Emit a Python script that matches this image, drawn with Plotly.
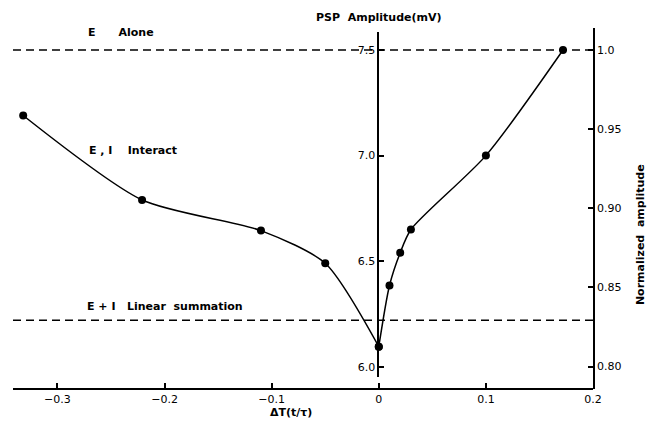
import plotly.graph_objects as go

# ---- data ----
delta_t = [-0.332, -0.221, -0.110, -0.050, 0.000, 0.010, 0.020, 0.030, 0.100, 0.172]
psp_mv = [7.19, 6.79, 6.645, 6.49, 6.095, 6.385, 6.54, 6.65, 7.00, 7.50]

E_ALONE_MV = 7.5          # "E Alone" reference level
LINEAR_SUM_MV = 6.22      # "E+I Linear summation" reference level

x_ticks = [-0.3, -0.2, -0.1, 0.0, 0.1, 0.2]
x_ticklabels = ["\u22120.3", "\u22120.2", "\u22120.1", "0", "0.1", "0.2"]
left_ticks = [6.0, 6.5, 7.0, 7.5]
left_ticklabels = ["6.0", "6.5", "7.0", "7.5"]
right_ticks = [0.80, 0.85, 0.90, 0.95, 1.00]
right_ticklabels = ["0.80", "0.85", "0.90", "0.95", "1.0"]

X_RANGE = [-0.3415, 0.2]
FONT = "DejaVu Sans"

fig = go.Figure()

# reference dashed lines (normalized axis, 1.0 = E alone)
for level in (E_ALONE_MV, LINEAR_SUM_MV):
    fig.add_trace(go.Scatter(
        x=X_RANGE, y=[level / E_ALONE_MV] * 2, mode="lines",
        line=dict(color="black", width=1.4, dash="8px,5px"),
        xaxis="x", yaxis="y2", hoverinfo="skip", showlegend=False))

# E, I interaction curve: two smooth branches meeting at the minimum (dT = 0)
i_min = psp_mv.index(min(psp_mv))
for sl in (slice(0, i_min + 1), slice(i_min, None)):
    fig.add_trace(go.Scatter(
        x=delta_t[sl], y=psp_mv[sl], mode="lines+markers",
        line=dict(color="black", width=1.5, shape="spline", smoothing=0.7),
        marker=dict(color="black", size=8),
        xaxis="x", yaxis="y", showlegend=False))

tickfont = dict(family=FONT, size=11, color="black")

# page body has an 8px margin, so the figure is slightly smaller and shifted
fig.update_layout(
    width=651, height=415,
    margin=dict(l=5, r=66, t=20, b=34),
    paper_bgcolor="white", plot_bgcolor="rgba(0,0,0,0)",
    font=dict(family=FONT, color="black"),
    xaxis=dict(
        domain=[0, 1], range=X_RANGE, anchor="free", position=0,
        showline=True, linecolor="black", linewidth=1.5,
        ticks="inside", ticklen=5, tickwidth=1.5, tickcolor="black",
        tickvals=x_ticks, ticktext=x_ticklabels, tickfont=tickfont,
        showgrid=False, zeroline=False),
    yaxis=dict(
        domain=[0.0341, 0.9898], range=[5.953, 7.587],
        anchor="free", position=0.6297, side="left",
        showline=True, linecolor="black", linewidth=1.5,
        ticks="inside", ticklen=5, tickwidth=1.5, tickcolor="black",
        tickvals=left_ticks, ticktext=left_ticklabels, tickfont=tickfont,
        showgrid=False, zeroline=False),
    yaxis2=dict(
        domain=[0, 1], range=[5.894 / E_ALONE_MV, 7.604 / E_ALONE_MV],
        anchor="x", side="right",
        showline=True, linecolor="black", linewidth=1.5,
        ticks="inside", ticklen=5, tickwidth=1.5, tickcolor="black",
        tickvals=right_ticks, ticktext=right_ticklabels, tickfont=tickfont,
        showgrid=False, zeroline=False),
)

labfont = dict(family=FONT, size=11, color="black", weight="bold")
ann = [
    dict(text="PSP\u00a0\u00a0Amplitude(mV)", x=0, y=1.028, xref="x", yref="paper",
         xanchor="center", yanchor="middle"),
    dict(text="E\u00a0\u00a0\u00a0\u00a0\u00a0\u00a0Alone", x=-0.273, y=7.585, xref="x", yref="y",
         xanchor="left", yanchor="middle"),
    dict(text="E\u00a0,\u00a0I\u00a0\u00a0\u00a0\u00a0Interact", x=-0.272, y=7.026, xref="x", yref="y",
         xanchor="left", yanchor="middle"),
    dict(text="E\u00a0+\u00a0I\u00a0\u00a0\u00a0Linear\u00a0\u00a0summation", x=-0.274, y=6.287,
         xref="x", yref="y", xanchor="left", yanchor="middle"),
    dict(text="\u0394T(t/\u03c4)", x=-0.082, y=-0.064, xref="x", yref="paper",
         xanchor="center", yanchor="middle"),
    dict(text="Normalized\u00a0\u00a0amplitude", x=1.081, y=0.429, xref="paper", yref="paper",
         xanchor="center", yanchor="middle", textangle=-90),
]
for a in ann:
    a.update(showarrow=False, font=labfont)
    fig.add_annotation(**a)

fig.write_html("out.html")
